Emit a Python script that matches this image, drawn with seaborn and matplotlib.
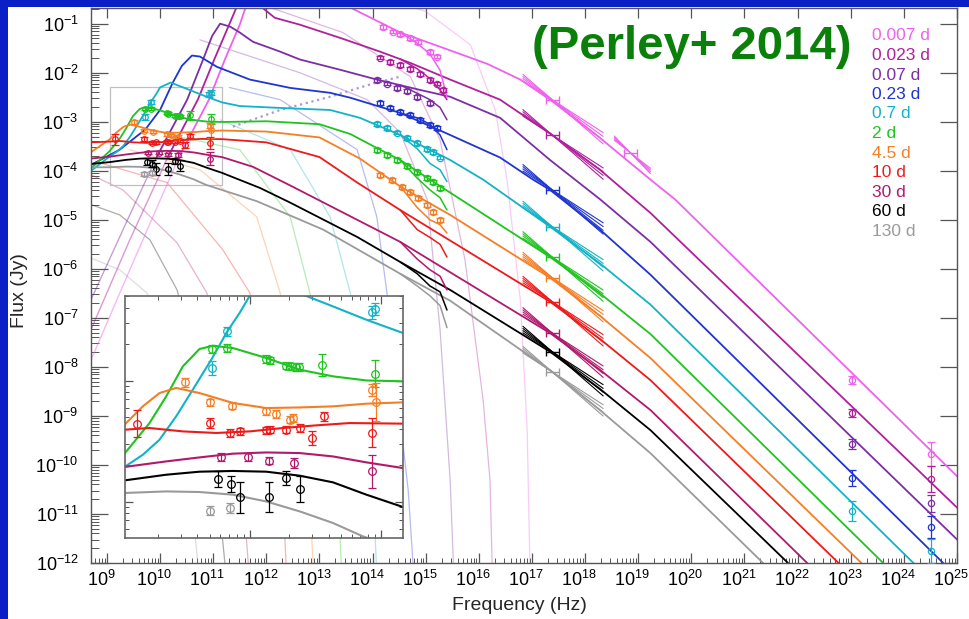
import matplotlib
matplotlib.use("Agg")
import matplotlib.pyplot as plt
import matplotlib.ticker as mtick
import matplotlib.transforms as mtrans
import numpy as np
import seaborn as sns
from matplotlib.patches import Rectangle

sns.set_theme(style="white")
plt.rcParams["font.family"] = ["Liberation Sans", "DejaVu Sans"]
plt.rcParams["mathtext.fontset"] = "custom"
plt.rcParams["mathtext.rm"] = "Liberation Sans"
plt.rcParams["mathtext.it"] = "Liberation Sans:italic"
plt.rcParams["mathtext.bf"] = "Liberation Sans:bold"

# epochs (legend) and their colours
epochs = ["0.007 d", "0.023 d", "0.07 d", "0.23 d", "0.7 d", "2 d",
          "4.5 d", "10 d", "30 d", "60 d", "130 d"]
colors = ["#ee62ee", "#b0209c", "#7b2fa3", "#1f35d0", "#12b3c6", "#1fc41f",
          "#f57f25", "#ee1a1a", "#b0196c", "#000000", "#9a9a9a"]

# model spectra: log10(nu/Hz), log10(F/Jy)
nu_007 = [8.70, 9.43, 10.36, 10.92, 11.22, 11.50, 11.69, 11.97, 12.45, 13.01, 13.58,
          14.52, 15.27, 16.16, 16.78, 17.34, 18.28, 19.23, 19.70, 25.01]
f_007 = [-7.86, -6.02, -3.71, -2.55, -1.73, -1.02, -0.41, 0.10, 0.20, -0.10, -0.67,
         -1.18, -1.47, -1.82, -2.14, -2.55, -3.33, -4.18, -4.59, -10.24]
nu_023 = [8.70, 9.43, 10.15, 10.71, 11.02, 11.30, 11.50, 11.69, 11.92, 12.16, 12.63,
          13.39, 14.14, 14.71, 15.46, 16.40, 17.34, 18.28, 19.23, 25.01]
f_023 = [-7.24, -5.41, -3.71, -2.55, -1.73, -1.02, -0.51, -0.35, -0.67, -0.88, -1.02,
         -1.29, -1.57, -1.80, -2.14, -2.55, -3.24, -3.98, -4.86, -10.88]
nu_07 = [8.70, 9.43, 9.94, 10.51, 10.81, 10.98, 11.13, 11.32, 11.50, 11.75, 12.26,
         12.63, 13.39, 14.08, 14.89, 15.46, 16.40, 17.34, 18.28, 19.23, 25.01]
f_07 = [-6.63, -4.90, -3.71, -2.55, -1.73, -1.25, -1.00, -1.06, -1.18, -1.37, -1.57,
        -1.73, -1.94, -2.14, -2.35, -2.49, -2.92, -3.78, -4.58, -5.45, -11.53]
nu_23 = [8.70, 9.24, 9.72, 10.00, 10.24, 10.41, 10.60, 10.75, 11.07, 11.69, 12.45,
         13.20, 13.58, 14.52, 15.46, 16.40, 17.02, 17.34, 18.28, 19.23, 24.74]
f_23 = [-3.88, -3.57, -3.16, -2.76, -2.20, -1.86, -1.65, -1.67, -1.88, -2.14, -2.31,
        -2.41, -2.51, -2.82, -3.27, -3.73, -4.18, -4.39, -5.20, -6.12, -12.0]
nu_7 = [8.70, 9.046, 9.186, 9.313, 9.44, 9.567, 9.708, 9.83, 9.924, 10.0, 10.2,
        10.433, 10.636, 10.89, 11.17, 11.5, 12.3, 13.2, 13.76, 14.52, 15.46, 16.08,
        17.34, 18.28, 19.23, 24.18]
f_7 = [-4.0, -3.713, -3.612, -3.488, -3.295, -3.074, -2.826, -2.593, -2.44, -2.30,
       -2.20, -2.30, -2.386, -2.496, -2.606, -2.68, -2.72, -2.76, -2.92, -3.27, -3.78,
       -4.18, -5.14, -5.89, -6.73, -12.0]
nu_2 = [8.70, 9.046, 9.237, 9.364, 9.491, 9.618, 9.72, 9.873, 10.127, 10.382, 10.636,
        10.891, 11.17, 12.0, 13.0, 13.58, 14.14, 14.52, 15.08, 17.34, 18.28, 19.23, 23.61]
f_2 = [-3.95, -3.603, -3.35, -3.13, -2.882, -2.738, -2.711, -2.73, -2.812, -2.909,
       -2.964, -2.998, -3.005, -2.99, -3.05, -3.25, -3.57, -3.78, -4.18, -5.76, -6.50,
       -7.33, -12.0]
nu_45 = [8.70, 9.046, 9.186, 9.313, 9.44, 9.618, 9.873, 10.127, 10.382, 10.636, 10.891,
         11.17, 12.0, 13.0, 13.76, 14.52, 15.46, 17.34, 18.28, 19.23, 23.20]
f_45 = [-3.62, -3.364, -3.212, -3.102, -3.06, -3.102, -3.184, -3.226, -3.221, -3.212,
        -3.19, -3.179, -3.2, -3.32, -3.75, -4.32, -4.90, -6.18, -6.96, -7.82, -12.0]
nu_10 = [8.70, 9.046, 9.237, 9.491, 9.746, 10.0, 10.254, 10.509, 10.763, 11.17, 12.0,
         13.0, 13.71, 14.52, 17.34, 18.28, 19.23, 22.77]
f_10 = [-3.42, -3.405, -3.391, -3.419, -3.432, -3.419, -3.391, -3.369, -3.35, -3.355,
        -3.42, -3.72, -4.24, -4.80, -6.67, -7.43, -8.27, -12.0]
nu_30 = [8.70, 9.046, 9.364, 9.618, 9.873, 10.127, 10.382, 10.636, 10.891, 11.17,
         11.75, 12.45, 13.71, 14.52, 17.34, 18.28, 19.23, 22.18]
f_30 = [-3.75, -3.713, -3.667, -3.634, -3.603, -3.593, -3.598, -3.626, -3.675, -3.722,
        -3.92, -4.30, -5.0, -5.45, -7.31, -8.06, -8.88, -12.0]
nu_60 = [8.70, 9.046, 9.364, 9.618, 9.873, 10.127, 10.382, 10.636, 10.891, 11.17,
         11.88, 12.45, 13.71, 14.52, 15.46, 17.34, 18.28, 19.23, 21.82]
f_60 = [-3.86, -3.824, -3.777, -3.752, -3.746, -3.752, -3.785, -3.84, -3.942, -4.044,
        -4.35, -4.65, -5.35, -5.86, -6.43, -7.69, -8.45, -9.29, -12.0]
nu_130 = [8.70, 9.046, 9.364, 9.618, 9.873, 10.127, 10.382, 10.636, 10.865, 11.82,
          13.07, 14.52, 15.46, 17.38, 18.30, 19.23, 21.35]
f_130 = [-3.93, -3.928, -3.915, -3.92, -3.942, -3.998, -4.08, -4.176, -4.287, -4.62,
         -5.2, -6.1, -6.65, -8.10, -8.90, -9.76, -12.0]

# faint single-component curves
a_nu_007 = [14.40, 15.0, 15.84, 16.31, 16.53, 16.78, 16.91, 16.96]
a_f_007 = [-0.55, -0.75, -1.43, -2.76, -4.18, -6.63, -9.29, -12.0]
a_nu_023 = [12.07, 13.44, 14.71, 15.27, 15.74, 16.08, 16.21, 16.25]
a_f_023 = [-0.67, -1.18, -2.08, -3.37, -5.82, -8.67, -10.31, -12.0]
a_nu_07 = [10.75, 12.63, 13.90, 14.52, 15.03, 15.27, 15.46, 15.52]
a_f_07 = [-1.33, -2.0, -2.55, -3.22, -4.59, -7.24, -10.31, -12.0]
a_nu_23 = [11.3, 12.26, 13.71, 14.08, 14.27, 14.52, 14.67, 14.76]
a_f_23 = [-2.3, -2.55, -3.57, -4.94, -6.49, -9.08, -10.51, -12.0]
a_nu_7 = [11.13, 12.45, 13.20, 13.58, 13.88, 14.01, 14.07]
a_f_7 = [-2.96, -3.57, -4.94, -6.49, -9.08, -10.51, -12.0]
a_nu_2 = [10.19, 11.50, 12.45, 12.82, 13.20, 13.35, 13.41]
a_f_2 = [-3.27, -3.57, -4.94, -6.49, -9.08, -10.51, -12.0]
a_nu_45 = [9.43, 10.75, 11.82, 12.26, 12.63, 12.80, 12.88]
a_f_45 = [-3.57, -3.98, -4.94, -6.49, -8.67, -10.31, -12.0]
a_nu_10 = [8.87, 10.13, 11.18, 11.69, 12.11, 12.30, 12.37]
a_f_10 = [-3.84, -4.24, -5.61, -6.49, -8.67, -10.31, -12.0]
a_nu_30 = [8.70, 9.30, 10.32, 10.88, 11.32, 11.54, 11.66]
a_f_30 = [-4.08, -4.39, -5.47, -6.49, -8.67, -10.31, -12.0]
a_nu_60 = [8.70, 9.24, 9.81, 10.32, 10.75, 11.03, 11.22]
a_f_60 = [-4.69, -4.90, -5.41, -6.43, -8.27, -9.90, -12.0]
a_nu_130 = [8.70, 9.24, 9.75, 10.19, 10.47, 10.71]
a_f_130 = [-5.78, -6.02, -6.49, -7.65, -9.29, -12.0]

# dotted curve
dot_nu = [11.37, 12.26, 13.20, 13.95, 14.52]
dot_f = [-3.10, -2.76, -2.49, -2.24, -2.08]

# extinguished branches near the UV
br_nu = [14.52, 14.84, 15.08, 15.27, 15.40]
br_007 = [-1.18, -1.40, -1.62, -1.95, -2.50]
br_023 = [-1.72, -1.92, -2.12, -2.35, -2.55]
br_07 = [-2.25, -2.42, -2.55, -2.71, -2.96]
br_23 = [-2.82, -2.92, -3.05, -3.27, -3.57]
br_7 = [-3.27, -3.55, -3.85, -3.98, -4.22]
br_2 = [-3.78, -4.15, -4.39, -4.55, -4.80]
br_45 = [-4.32, -4.75, -5.00, -5.10, -5.27]
br_10 = [-4.80, -5.20, -5.36, -5.50, -5.76]
br_30 = [-5.45, -5.80, -6.02, -6.15, -6.43]
br_60 = [-5.86, -6.10, -6.35, -6.47, -6.84]
br_130 = [-6.10, -6.35, -6.55, -6.75, -7.20]

# optical / UV photometry
o_nu_007 = [14.20, 14.39, 14.52, 14.71, 14.86, 15.08, 15.21]
o_f_007 = [-1.06, -1.16, -1.22, -1.29, -1.37, -1.57, -1.67]
o_nu_023 = [14.14, 14.33, 14.52, 14.71, 14.89, 15.08, 15.21, 15.33]
o_f_023 = [-1.69, -1.78, -1.84, -1.92, -2.02, -2.14, -2.22, -2.35]
o_nu_07 = [14.08, 14.27, 14.46, 14.65, 14.84, 15.08]
o_f_07 = [-2.14, -2.22, -2.31, -2.37, -2.49, -2.61]
o_nu_23 = [14.14, 14.33, 14.52, 14.71, 14.89, 15.08, 15.21]
o_f_23 = [-2.61, -2.71, -2.80, -2.86, -2.96, -3.06, -3.12]
o_nu_7 = [14.08, 14.27, 14.46, 14.65, 14.84, 15.03, 15.14, 15.27]
o_f_7 = [-3.04, -3.12, -3.22, -3.33, -3.43, -3.55, -3.61, -3.73]
o_nu_2 = [14.08, 14.27, 14.46, 14.65, 14.84, 15.03, 15.14, 15.27]
o_f_2 = [-3.57, -3.67, -3.78, -3.90, -4.02, -4.14, -4.22, -4.35]
o_nu_45 = [14.14, 14.37, 14.56, 14.71, 14.86, 15.03, 15.14, 15.27]
o_f_45 = [-4.08, -4.18, -4.33, -4.43, -4.55, -4.69, -4.84, -5.00]

# radio / mm photometry (value, error in dex)
r_nu_7 = [9.71, 9.83, 10.93, 10.96]
r_f_7 = [-2.895, -2.593, -2.436, -2.407]
r_e_7 = [0.06, 0.04, 0.05, 0.05]
r_nu_2 = [9.71, 9.83, 10.127, 10.153, 10.28, 10.318, 10.356, 10.38, 10.555, 10.96]
r_f_2 = [-2.738, -2.730, -2.821, -2.832, -2.876, -2.882, -2.887, -2.887, -2.870, -2.942]
r_e_2 = [0.03, 0.03, 0.03, 0.03, 0.03, 0.03, 0.03, 0.03, 0.09, 0.11]
r_nu_45 = [9.504, 9.695, 9.868, 10.127, 10.198, 10.305, 10.33, 10.937, 10.962]
r_f_45 = [-3.014, -3.179, -3.207, -3.254, -3.275, -3.322, -3.308, -3.080, -3.176]
r_e_45 = [0.04, 0.03, 0.03, 0.03, 0.03, 0.03, 0.03, 0.05, 0.16]
r_nu_10 = [9.143, 9.70, 9.847, 9.924, 10.122, 10.158, 10.28, 10.382, 10.473, 10.565, 10.937]
r_f_10 = [-3.355, -3.350, -3.432, -3.419, -3.411, -3.405, -3.405, -3.391, -3.474, -3.295, -3.432]
r_e_10 = [0.11, 0.04, 0.03, 0.03, 0.03, 0.03, 0.03, 0.03, 0.06, 0.04, 0.12]
r_nu_30 = [9.779, 9.987, 10.145, 10.338, 10.937]
r_f_30 = [-3.631, -3.631, -3.661, -3.680, -3.750]
r_e_30 = [0.03, 0.03, 0.03, 0.04, 0.14]
r_nu_60 = [9.758, 9.855, 9.924, 10.145, 10.28, 10.382]
r_f_60 = [-3.812, -3.854, -3.964, -3.964, -3.804, -3.895]
r_e_60 = [0.066, 0.066, 0.13, 0.124, 0.058, 0.107]
r_nu_130 = [9.695, 9.847]
r_f_130 = [-4.074, -4.052]
r_e_130 = [0.04, 0.04]

# X-ray spectra: band edges, centre and slopes of the bundle lines
bt_nu = [16.83, 17.38, 18.34]
bt_idx = [0, 1, 3, 4, 5, 6, 7, 8, 9, 10]
bt_f = [-2.55, -3.27, -4.39, -5.14, -5.76, -6.18, -6.67, -7.31, -7.69, -8.10]
bt_slopes = [-0.70, -0.78, -0.86, -0.94]
bt2_nu = [18.55, 18.85, 19.23]
bt2_f = -3.63

# LAT gamma-ray points (first five epochs)
g_nu = [23.03, 24.52]
g_f = [[-8.27, -9.78], [-8.94, -10.29], [-9.57, -10.78], [-10.27, -11.27], [-10.94, -11.76]]
g_e = [[0.08, 0.25], [0.08, 0.26], [0.10, 0.17], [0.16, 0.22], [0.20, 0.24]]

inset_nu = [9.05, 11.17]
inset_f = [-4.30, -2.30]
x_decades = list(range(9, 26))
y_decades = list(range(-12, 0))


def lin(a):
    return 10.0 ** np.asarray(a, dtype=float)


def curve(ax, nu, f, color, lw=1.3, alpha=1.0, ls="-", z=2):
    sns.lineplot(x=lin(nu), y=lin(f), ax=ax, color=color, lw=lw, alpha=alpha,
                 linestyle=ls, sort=False, estimator=None, legend=False, zorder=z)


def points(ax, nu, f, err, color, ms=4.5):
    f = np.asarray(f, dtype=float)
    e = np.asarray(err, dtype=float)
    y = lin(f)
    ax.errorbar(lin(nu), y, yerr=[y - lin(f - e), lin(f + e) - y], fmt="o",
                mfc="none", mec=color, ecolor=color, ms=ms, mew=0.9,
                elinewidth=0.9, capsize=3, capthick=0.9, zorder=4)


def xtick_bar(ax, nu, f, color):
    x = lin(nu)
    ax.errorbar(x, lin(f), xerr=[[x - lin(nu - 0.12)], [lin(nu + 0.12) - x]], fmt="none",
                ecolor=color, elinewidth=1.0, capsize=3, zorder=3)


models = [(nu_007, f_007), (nu_023, f_023), (nu_07, f_07), (nu_23, f_23),
          (nu_7, f_7), (nu_2, f_2), (nu_45, f_45), (nu_10, f_10),
          (nu_30, f_30), (nu_60, f_60), (nu_130, f_130)]
faint = [(a_nu_007, a_f_007), (a_nu_023, a_f_023), (a_nu_07, a_f_07), (a_nu_23, a_f_23),
         (a_nu_7, a_f_7), (a_nu_2, a_f_2), (a_nu_45, a_f_45), (a_nu_10, a_f_10),
         (a_nu_30, a_f_30), (a_nu_60, a_f_60), (a_nu_130, a_f_130)]
branches = [br_007, br_023, br_07, br_23, br_7, br_2, br_45, br_10, br_30, br_60, br_130]
optical = [(o_nu_007, o_f_007), (o_nu_023, o_f_023), (o_nu_07, o_f_07), (o_nu_23, o_f_23),
           (o_nu_7, o_f_7), (o_nu_2, o_f_2), (o_nu_45, o_f_45)]
radio = {4: (r_nu_7, r_f_7, r_e_7), 5: (r_nu_2, r_f_2, r_e_2), 6: (r_nu_45, r_f_45, r_e_45),
         7: (r_nu_10, r_f_10, r_e_10), 8: (r_nu_30, r_f_30, r_e_30),
         9: (r_nu_60, r_f_60, r_e_60), 10: (r_nu_130, r_f_130, r_e_130)}

fig = plt.figure(figsize=(9.69, 6.19), dpi=100, facecolor="#0a1fc6")
fig.add_artist(Rectangle((8 / 969, 0), 1, 1 - 7 / 619, transform=fig.transFigure,
                         facecolor="white", edgecolor="none", zorder=-1))
ax = fig.add_axes([91 / 969, 56 / 619, 866 / 969, 555 / 619])
ax.set_xscale("log")
ax.set_yscale("log")

for (nu, f), c in zip(faint, colors):
    curve(ax, nu, f, c, lw=0.9, alpha=0.33, z=1)
curve(ax, dot_nu, dot_f, "#a898dc", lw=1.6, ls=":", z=1)

for k, ((nu, f), c) in enumerate(zip(models, colors)):
    if k < 3:
        # the faint self-absorbed tail of the earliest spectra
        j = int(np.argmax(np.asarray(f) >= -3.71))
        curve(ax, nu[:j + 1], f[:j + 1], c, lw=1.0, alpha=0.45)
        curve(ax, nu[j:], f[j:], c, lw=1.3)
    else:
        curve(ax, nu, f, c, lw=1.3)
for f, c in zip(branches, colors):
    curve(ax, br_nu, f, c, lw=1.1)

# X-ray bundles
for i, fc in zip(bt_idx, bt_f):
    ends = [bt_nu[0], bt_nu[2]]
    for s in bt_slopes:
        curve(ax, ends, [fc + s * (n - bt_nu[1]) for n in ends], colors[i], lw=0.8, z=3)
    xtick_bar(ax, bt_nu[1], fc, colors[i])
ends = [bt2_nu[0], bt2_nu[2]]
for s in bt_slopes:
    curve(ax, ends, [bt2_f + s * 1.2 * (n - bt2_nu[1]) for n in ends], colors[0], lw=0.8, z=3)
xtick_bar(ax, bt2_nu[1], bt2_f, colors[0])

for (nu, f), c in zip(optical, colors):
    points(ax, nu, f, [0.04] * len(nu), c, ms=4.5)
for i, (nu, f, e) in radio.items():
    points(ax, nu, f, e, colors[i], ms=4.0)
for k in range(len(g_f)):
    points(ax, g_nu, g_f[k], g_e[k], colors[k], ms=4.5)

ax.add_patch(Rectangle((lin(inset_nu[0]), lin(inset_f[0])),
                       lin(inset_nu[1]) - lin(inset_nu[0]), lin(inset_f[1]) - lin(inset_f[0]),
                       fill=False, ec="#c0c0c0", lw=0.9, zorder=1))

ax.set_xlim(10 ** 8.70, 1e25)
ax.set_ylim(1e-12, 10 ** -0.68)
ax.xaxis.set_major_locator(mtick.FixedLocator(lin(x_decades)))
ax.yaxis.set_major_locator(mtick.FixedLocator(lin(y_decades)))
for a in (ax.xaxis, ax.yaxis):
    a.set_major_formatter(mtick.LogFormatterSciNotation())
    a.set_minor_locator(mtick.LogLocator(base=10, subs=np.arange(2, 10), numticks=40))
    a.set_minor_formatter(mtick.NullFormatter())
ax.tick_params(which="both", direction="in", bottom=True, left=True, top=True, right=True,
               color="#555555", labelcolor="black")
ax.tick_params(axis="x", which="major", length=7.5, width=0.9, labelsize=13, pad=5)
ax.tick_params(axis="x", which="minor", length=3.7, width=0.7, top=False)
ax.tick_params(axis="y", which="major", length=12, width=0.9, labelsize=13, pad=9)
ax.tick_params(axis="y", which="minor", length=6, width=0.7, right=False)
shift = mtrans.ScaledTranslation(-6 / 100, 0, fig.dpi_scale_trans)
for lab in ax.get_xticklabels():
    lab.set_transform(lab.get_transform() + shift)
for s in ax.spines.values():
    s.set_color("#555555")
    s.set_linewidth(1.0)
ax.set_xlabel("Frequency (Hz)", fontsize=14)
ax.set_ylabel("Flux (Jy)", fontsize=14)
ax.xaxis.set_label_coords(0.495, -0.062)
ax.yaxis.set_label_coords(-0.073, 0.49)

# inset
axi = fig.add_axes([125 / 969, 81 / 619, 278 / 969, 242 / 619])
axi.set_xscale("log")
axi.set_yscale("log")
for i in range(4, 11):
    curve(axi, models[i][0], models[i][1], colors[i], lw=1.5)
for i, (nu, f, e) in radio.items():
    points(axi, nu, f, e, colors[i], ms=5.5)
axi.set_xlim(lin(inset_nu[0]), lin(inset_nu[1]))
axi.set_ylim(lin(inset_f[0]), lin(inset_f[1]))
for a in (axi.xaxis, axi.yaxis):
    a.set_major_locator(mtick.LogLocator(base=10, numticks=10))
    a.set_minor_locator(mtick.LogLocator(base=10, subs=np.arange(2, 10), numticks=10))
axi.tick_params(which="both", direction="in", bottom=True, left=True, top=True, right=True,
                labelbottom=False, labelleft=False, color="#555555")
axi.tick_params(which="major", length=6, width=0.9)
axi.tick_params(which="minor", length=3, width=0.7)
for s in axi.spines.values():
    s.set_color("#666666")
    s.set_linewidth(1.2)

# title and colour legend
fig.text(691.5 / 969, 1 - 47 / 619, "(Perley+ 2014)", ha="center", va="center",
         fontsize=34, fontweight="bold", color="#0a800a")
for k, (lab, c) in enumerate(zip(epochs, colors)):
    fig.text(872 / 969, 1 - (36 + 19.5 * k) / 619, lab, ha="left", va="center",
             fontsize=12.5, color=c)

fig.savefig("out.png", dpi=100, facecolor=fig.get_facecolor())
